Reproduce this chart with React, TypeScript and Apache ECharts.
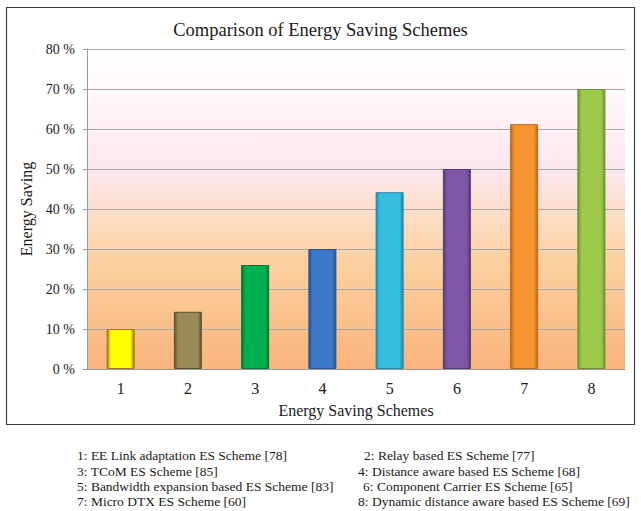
import React, { useEffect, useRef } from "react";
import * as echarts from "echarts";

const categories = ["1", "2", "3", "4", "5", "6", "7", "8"];
const savings = [10, 14.3, 26, 30, 44.2, 50, 61.2, 70];
const barColors = ["#ffff00", "#9a8a58", "#00b050", "#3c78c8", "#35bde0", "#7f56a6", "#f7962e", "#9dca4a"];
const barEdges = ["#9a7a20", "#5e5430", "#007a38", "#27558f", "#2088a6", "#553a78", "#b86a18", "#6a9230"];
const yTicks = [0, 10, 20, 30, 40, 50, 60, 70, 80];
const legendLeft = [
  "1: EE Link adaptation ES Scheme [78]",
  "3: TCoM ES Scheme [85]",
  "5: Bandwidth expansion based ES Scheme [83]",
  "7: Micro DTX ES Scheme [60]",
];
const legendRight = [
  "2: Relay based ES Scheme [77]",
  "4: Distance aware based ES Scheme [68]",
  "6: Component Carrier ES Scheme [65]",
  "8: Dynamic distance aware based ES Scheme [69]",
];

const FONT = "Liberation Serif";

export default function App() {
  const ref = useRef<HTMLDivElement>(null);
  useEffect(() => {
    if (!ref.current) return;
    const chart = echarts.init(ref.current, null, { renderer: "svg" });
    const rowY = [455, 471, 486, 501];
    const rightX = [364, 358, 363, 358];
    const legendGraphics: any[] = [];
    const mk = (t: string, x: number, y: number) => ({
      type: "text",
      x,
      y,
      style: {
        text: t,
        fontFamily: FONT,
        fontSize: 13.5,
        fill: "#1a1a1a",
        verticalAlign: "middle",
      },
    });
    legendLeft.forEach((t, i) => legendGraphics.push(mk(t, 77, rowY[i])));
    legendRight.forEach((t, i) => legendGraphics.push(mk(t, rightX[i], rowY[i])));
    chart.setOption({
      animation: false,
      backgroundColor: "#ffffff",
      title: {
        text: "Comparison of Energy Saving Schemes",
        left: "center",
        top: 15,
        textStyle: { fontFamily: FONT, fontSize: 18.5, fontWeight: "normal", color: "#1a1a1a" },
      },
      grid: {
        left: 87,
        right: 16,
        top: 49,
        bottom: 142,
        show: true,
        borderWidth: 0,
        backgroundColor: new echarts.graphic.LinearGradient(0, 0, 0, 1, [
          { offset: 0, color: "#ffffff" },
          { offset: 0.2, color: "#fff4f7" },
          { offset: 0.38, color: "#fde5ed" },
          { offset: 0.52, color: "#fcdcc6" },
          { offset: 0.68, color: "#fbcf9e" },
          { offset: 1, color: "#f9b47c" },
        ]),
      },
      xAxis: {
        type: "category",
        data: categories,
        name: "Energy Saving Schemes",
        nameLocation: "middle",
        nameGap: 33,
        nameTextStyle: { fontFamily: FONT, fontSize: 16, color: "#1a1a1a" },
        axisLine: { lineStyle: { color: "#9a9a9a", width: 1 } },
        axisTick: { show: false },
        axisLabel: { fontFamily: FONT, fontSize: 16, color: "#1a1a1a", margin: 11 },
      },
      yAxis: {
        type: "value",
        min: yTicks[0],
        max: yTicks[yTicks.length - 1],
        interval: 10,
        name: "Energy Saving",
        nameLocation: "middle",
        nameGap: 51,
        nameRotate: 90,
        nameTextStyle: { fontFamily: FONT, fontSize: 16, color: "#1a1a1a" },
        axisLine: { show: true, lineStyle: { color: "#9a9a9a", width: 1 } },
        axisTick: { show: true, length: 4, lineStyle: { color: "#9a9a9a" } },
        axisLabel: {
          fontFamily: FONT,
          fontSize: 14,
          color: "#1a1a1a",
          margin: 12,
          formatter: (v: number) => `${v} %`,
        },
        splitLine: { lineStyle: { color: "#a8a8a8", width: 1 } },
      },
      series: [
        {
          type: "bar",
          barWidth: 28,
          data: savings.map((v, i) => ({
            value: v,
            itemStyle: {
              color: new echarts.graphic.LinearGradient(0, 0, 1, 0, [
                { offset: 0, color: barEdges[i] },
                { offset: 0.14, color: barColors[i] },
                { offset: 0.86, color: barColors[i] },
                { offset: 1, color: barEdges[i] },
              ]),
              borderColor: barEdges[i],
              borderWidth: 1,
            },
          })),
        },
      ],
      graphic: [
        {
          type: "rect",
          shape: { x: 6.5, y: 7.5, width: 628, height: 417 },
          style: { fill: "none", stroke: "#404040", lineWidth: 1.2 },
          z: 100,
        },
        ...legendGraphics,
      ],
    });
    return () => chart.dispose();
  }, []);
  return (
    <div
      ref={ref}
      style={{ position: "fixed", left: 0, top: 0, width: 641, height: 511 }}
    />
  );
}
